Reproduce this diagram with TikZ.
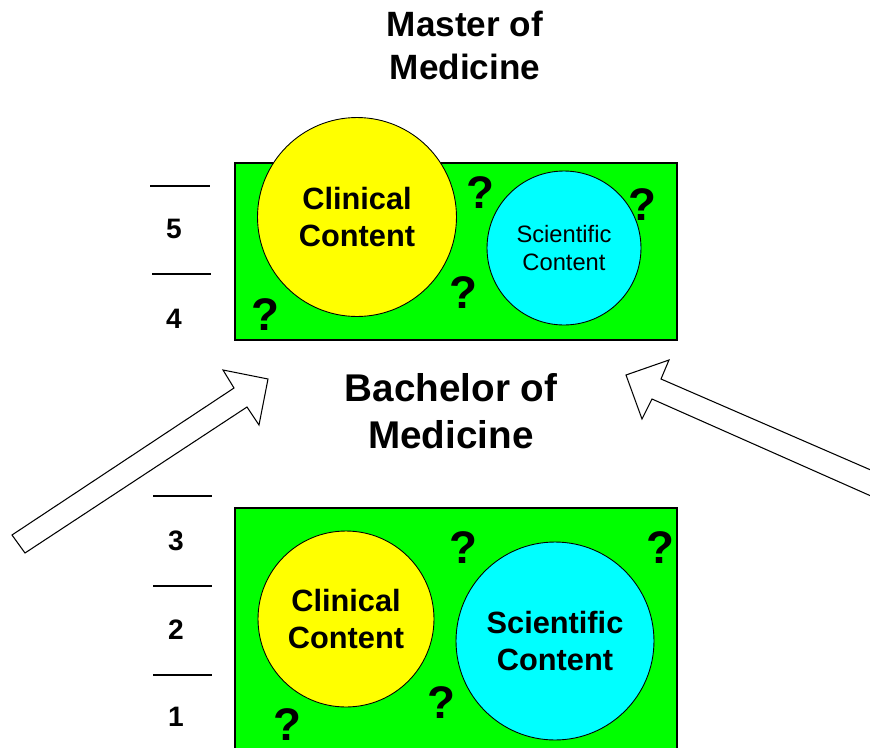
\documentclass[tikz,border=0pt]{standalone}
\usepackage{fontspec}
\setmainfont{Liberation Sans}
\usetikzlibrary{positioning}

\definecolor{lime}{RGB}{0,255,0}
\definecolor{lemon}{RGB}{255,255,0}
\definecolor{aqua}{RGB}{0,255,255}

\tikzset{
  block/.style={draw,fill=lime,line width=0.6pt},
  disc/.style={circle,draw,inner sep=0pt,line width=0.5pt,align=center},
  big/.style={font=\fontsize{17.5}{21}\selectfont\bfseries},
  small/.style={font=\fontsize{13.5}{15.5}\selectfont},
  query/.style={font=\fontsize{26}{26}\selectfont\bfseries,inner sep=0pt},
  level/.style={font=\fontsize{16}{16}\selectfont\bfseries,inner sep=0pt},
  tick/.style={line width=0.6pt},
  fat/.style={draw,fill=white,line width=0.6pt}
}

\begin{document}
\begin{tikzpicture}[x=0.02cm,y=-0.02cm]
          \useasboundingbox (0,0) rectangle (870,748);
          \clip (0,0) rectangle (870,748);
          % titles
          \node[align=center,font=\fontsize{20}{24.4}\selectfont\bfseries] (master) at (465,45){Master of\\Medicine};
          \node[align=center,font=\fontsize{22}{26.6}\selectfont\bfseries] (bachelor) at (451,411){Bachelor of\\Medicine};
          % master block
          \draw[block] (235,163) rectangle (677,340);
          \node[disc,fill=lemon,minimum size=3.98cm,big] (mclin) at (357,217){Clinical\\Content};
          \node[disc,fill=aqua,minimum size=3.08cm,small] (msci) at (564,248){Scientific\\Content};
          \node[query] (mq1) at (480,193){?};
          \node[query] (mq2) at (642,205){?};
          \node[query] (mq3) at (463,293){?};
          \node[query] (mq4) at (265,315){?};
          % bachelor block
          \draw[block] (235,508) rectangle (677,770);
          \node[disc,fill=lemon,minimum size=3.52cm,big] (bclin) at (346,619){Clinical\\Content};
          \node[disc,fill=aqua,minimum size=3.96cm,big] (bsci) at (555,641){Scientific\\Content};
          \node[query] (bq1) at (463,548){?};
          \node[query] (bq2) at (660,548){?};
          \node[query] (bq3) at (441,703){?};
          \node[query] (bq4) at (287,725){?};
          % years
          \draw[tick] (150,186) -- (210,186);
          \draw[tick] (152,274) -- (211,274);
          \draw[tick] (153,496) -- (212,496);
          \draw[tick] (153,586) -- (212,586);
          \draw[tick] (153,675) -- (212,675);
          \node[level] (y5) at (174,229){5};
          \node[level] (y4) at (174,319){4};
          \node[level] (y3) at (176,541){3};
          \node[level] (y2) at (176,630){2};
          \node[level] (y1) at (176,717){1};
          % entry arrows
          \draw[fat] (12,535) -- (234,388) -- (223,370) -- (268,379) -- (259,425) -- (247,407) -- (25,553) -- cycle;
          \draw[fat] (880,474) -- (661,379) -- (669,360) -- (626,375) -- (642,419) -- (652,399) -- (880,500) -- cycle;
        \end{tikzpicture}
\end{document}
